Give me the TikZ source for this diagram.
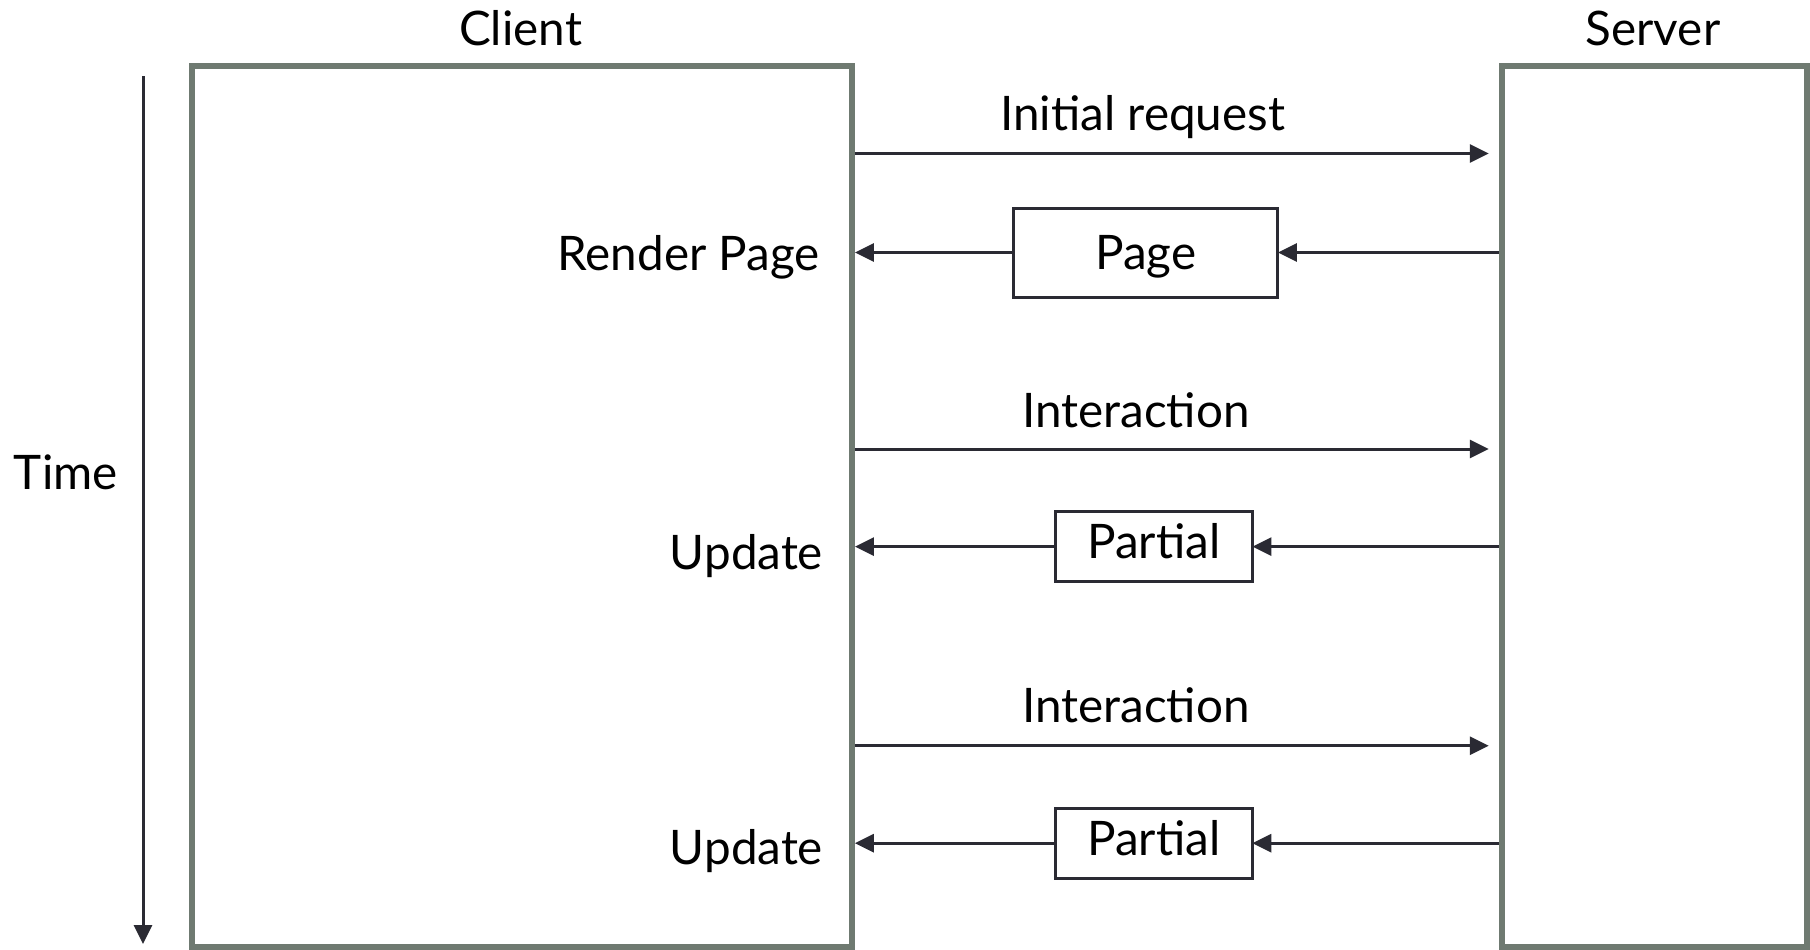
\documentclass[tikz,border=0pt]{standalone}
\usepackage{fontspec}
\setmainfont{Lato}
\usetikzlibrary{arrows.meta}
\definecolor{framecol}{HTML}{6F7A71}
\definecolor{inkcol}{HTML}{2A2A33}
\begin{document}
\begin{tikzpicture}[x=0.5pt,y=-0.5pt,
  frame/.style={draw=framecol,line width=3pt,fill=white,inner sep=0pt,outer sep=0pt},
  msgbox/.style={draw=inkcol,line width=1.5pt,inner sep=0pt,outer sep=0pt},
  arr/.style={draw=inkcol,line width=1.5pt,-{Triangle[length=9.5pt,width=9pt]}},
  lbl/.style={inner sep=0pt,outer sep=0pt,text=black,font=\fontsize{23.8}{28}\selectfont}]
\useasboundingbox (0,0) rectangle (1810,949);
\fill[white] (0,0) rectangle (1810,949);
% boxes
\node[frame,minimum width=330.15pt,minimum height=440.6pt] (client) at (521.75,506.4) {};
\node[frame,minimum width=152.35pt,minimum height=440.6pt] (server) at (1654.15,506.4) {};
% titles
\node[lbl,anchor=base] (clientlbl) at (520.6,45) {Client};
\node[lbl,anchor=base] (serverlbl) at (1653,45) {Server};
% time axis
\coordinate (tstart) at (143,76);
\coordinate (tend) at (143,944);
\draw[arr] (tstart) -- (tend);
\node[lbl,anchor=base] (timelbl) at (65.8,489.4) {Time};
% y levels
\coordinate (y1) at (0,153.5);
\coordinate (y3) at (0,449);
\coordinate (y5) at (0,745.7);
% requests
\draw[arr,shorten >=5pt] ([xshift=1.5pt]client.east |- y1) -- ([xshift=-1.5pt]server.west |- y1);
\node[lbl,anchor=base] (req) at (1142.8,130.4) {Initial request};
\draw[arr,shorten >=5pt] ([xshift=1.5pt]client.east |- y3) -- ([xshift=-1.5pt]server.west |- y3);
\node[lbl,anchor=base] (int1) at (1135.9,427) {Interaction};
\draw[arr,shorten >=5pt] ([xshift=1.5pt]client.east |- y5) -- ([xshift=-1.5pt]server.west |- y5);
\node[lbl,anchor=base] (int2) at (1135.9,722.6) {Interaction};
% responses
\node[msgbox,minimum width=132.2pt,minimum height=44.5pt] (page) at (1145.7,252.5) {};
\node[lbl,anchor=base] (pagetxt) at (1145.7,269) {Page};
\draw[arr] ([xshift=-1.5pt]server.west |- page.east) -- (page.east);
\draw[arr] (page.west) -- ([xshift=1.5pt]client.east |- page.west);
\node[lbl,anchor=base east] (render) at (819.6,270) {Render Page};

\node[msgbox,minimum width=98.7pt,minimum height=35.2pt] (part1) at (1153.7,546.6) {};
\node[lbl,anchor=base] (part1txt) at (1153.7,558.7) {Partial};
\draw[arr] ([xshift=-1.5pt]server.west |- part1.east) -- (part1.east);
\draw[arr] (part1.west) -- ([xshift=1.5pt]client.east |- part1.west);
\node[lbl,anchor=base east] (upd1) at (823,569) {Update};

\node[msgbox,minimum width=98.7pt,minimum height=35.2pt] (part2) at (1153.7,843.2) {};
\node[lbl,anchor=base] (part2txt) at (1153.7,855.3) {Partial};
\draw[arr] ([xshift=-1.5pt]server.west |- part2.east) -- (part2.east);
\draw[arr] (part2.west) -- ([xshift=1.5pt]client.east |- part2.west);
\node[lbl,anchor=base east] (upd2) at (823,864.6) {Update};
\end{tikzpicture}
\end{document}
